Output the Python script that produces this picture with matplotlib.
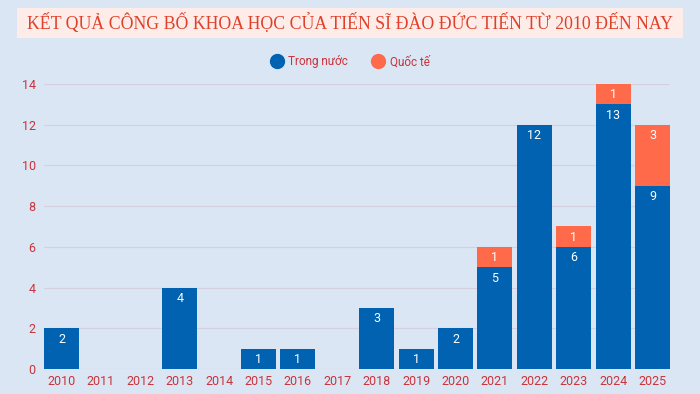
import matplotlib.pyplot as plt
from matplotlib.patches import FancyBboxPatch
from matplotlib.lines import Line2D

years = ["2010", "2011", "2012", "2013", "2014", "2015", "2016", "2017",
         "2018", "2019", "2020", "2021", "2022", "2023", "2024", "2025"]
domestic = [2, 0, 0, 4, 0, 1, 1, 0, 3, 1, 2, 5, 12, 6, 13, 9]
international = [0, 0, 0, 0, 0, 0, 0, 0, 0, 0, 0, 1, 0, 1, 1, 3]
series_names = ["Trong nước", "Quốc tế"]
title = "KẾT QUẢ CÔNG BỐ KHOA HỌC CỦA TIẾN SĨ ĐÀO ĐỨC TIẾN TỪ 2010 ĐẾN NAY"

BG = "#dbe6f4"
BLUE = "#0062b0"
ORANGE = "#ff6b4a"
RED = "#c8333c"

plt.rcParams["font.family"] = ["Roboto", "DejaVu Sans"]

fig = plt.figure(figsize=(7, 3.94), dpi=100, facecolor=BG)
ax = fig.add_axes([0.0629, 0.0635, 0.8943, 0.7233])
ax.set_facecolor(BG)

x = list(range(len(years)))
w = 0.89
ax.bar(x, domestic, width=w, color=BLUE, zorder=3, clip_on=False)
ax.bar(x, international, width=w, bottom=domestic, color=ORANGE, zorder=3, clip_on=False)

for i in x:
    d, q = domestic[i], international[i]
    if d > 0:
        ax.text(i, d - 0.22, str(d), color="white", ha="center", va="top",
                fontsize=9, zorder=4)
    if q > 0:
        ax.text(i, d + q - 0.22, str(q), color="white", ha="center", va="top",
                fontsize=9, zorder=4)

ax.set_xlim(-0.445, 15.445)
ax.set_ylim(0, 14)
ax.set_yticks(range(0, 15, 2))
ax.set_xticks(x)
ax.set_xticklabels(years)
ax.tick_params(colors=RED, labelsize=9, length=0)
ax.tick_params(axis="y", pad=6)
ax.tick_params(axis="x", pad=4)
ax.grid(axis="y", color="#d6d0de", linewidth=0.9, zorder=0)
for s in ax.spines.values():
    s.set_visible(False)

# legend
handles = [Line2D([], [], marker="o", linestyle="", markersize=10, color=BLUE),
           Line2D([], [], marker="o", linestyle="", markersize=10, color=ORANGE)]
fig.legend(handles, series_names, loc="center", bbox_to_anchor=(0.5, 0.843),
           ncol=2, frameon=False, fontsize=8.5, labelcolor=RED,
           handlelength=1.0, handletextpad=0.5, columnspacing=2.0)

# title box
box = FancyBboxPatch((0.0243, 0.9036), 0.951, 0.0761, boxstyle="square,pad=0",
                     transform=fig.transFigure, facecolor="#fdece8",
                     edgecolor="none")
fig.patches.append(box)
fig.text(0.5, 0.9416, title, ha="center", va="center", color="#e0402a",
         fontsize=12.8, family=["Liberation Serif", "DejaVu Serif"])

fig.savefig("out.png", dpi=100, facecolor=BG)
